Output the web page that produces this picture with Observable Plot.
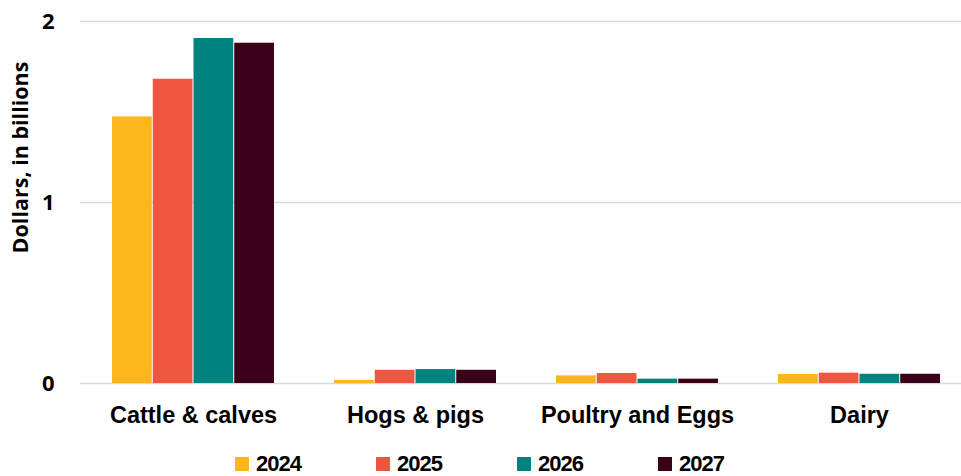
<!DOCTYPE html>
<html>
<head>
<meta charset="utf-8">
<script src="https://cdn.jsdelivr.net/npm/d3@7"></script>
<script src="https://cdn.jsdelivr.net/npm/@observablehq/plot@0.6"></script>
<style>
  html, body { margin: 0; padding: 0; background: #fff; overflow: hidden; }
  #chart { width: 961px; }
  #chart svg { display: block; }
  .legend { display: flex; padding-left: 235px; height: 24px; align-items: center; margin-top: 14px; }
  .legend .item { width: 141px; display: flex; align-items: center; }
  .legend .swatch { width: 14px; height: 14px; }
  .legend .lab { margin-left: 7px; line-height: 1.05; letter-spacing: -1px; font-family: "Liberation Sans", sans-serif; font-weight: bold; font-size: 22px; color: #000; }
</style>
</head>
<body>
<div id="chart"></div>
<script>
// Livestock categories and yearly values (billions of dollars)
const categories = ["Cattle & calves", "Hogs & pigs", "Poultry and Eggs", "Dairy"];
const years = ["2024", "2025", "2026", "2027"];
const values2024 = [1.473, 0.017, 0.042, 0.050];
const values2025 = [1.681, 0.073, 0.055, 0.057];
const values2026 = [1.906, 0.077, 0.024, 0.051];
const values2027 = [1.880, 0.073, 0.024, 0.051];
const yTicks = [0, 1, 2];
const colors = ["#FDB71A", "#F0563F", "#00827F", "#3B0019"];

const series = [values2024, values2025, values2026, values2027];

// Category band geometry: each group is split into one slot per year
const width = 961, marginLeft = 80, marginRight = 0;
const paddingInner = 0.269, paddingOuter = 0.11;
const step = (width - marginLeft - marginRight) / (categories.length - paddingInner + 2 * paddingOuter);
const groupWidth = step * (1 - paddingInner);
const slot = groupWidth / years.length;

const barMarks = years.map((yr, j) =>
  Plot.barY(categories.map((c, i) => ({category: c, year: yr, value: series[j][i]})), {
    x: "category",
    y: "value",
    fill: "year",
    insetLeft: j * slot,
    insetRight: (years.length - 1 - j) * slot
  })
);

const chart = Plot.plot({
  width,
  height: 438,
  marginLeft,
  marginRight,
  marginTop: 21,
  marginBottom: 55,
  style: {background: "#fff", color: "#000"},
  x: {
    domain: categories,
    paddingInner,
    paddingOuter,
    align: 0.612,
    label: null,
    tickSize: 0,
    tickPadding: 23
  },
  y: {
    domain: [0, 2],
    ticks: yTicks,
    tickFormat: d3.format("d"),
    tickSize: 0,
    tickPadding: 26,
    label: "Dollars, in billions",
    labelAnchor: "center",
    labelArrow: "none",
    labelOffset: 68
  },
  color: {domain: years, range: colors},
  marks: [
    Plot.ruleY(yTicks, {stroke: "#d9d9d9", strokeWidth: 1.3}),
    ...barMarks
  ]
});

// Typography for the axes
chart.querySelectorAll("[aria-label='y-axis tick label'] text").forEach(t => {
  t.setAttribute("font-family", "Open Sans, sans-serif");
  t.setAttribute("font-weight", "bold");
  t.setAttribute("font-size", "22");
});
chart.querySelectorAll("[aria-label='y-axis label'] text").forEach(t => {
  t.setAttribute("font-family", "Open Sans, sans-serif");
  t.setAttribute("font-weight", "bold");
  t.setAttribute("font-size", "21.5");
  t.setAttribute("dx", "45"); // raise the rotated title above the frame centre
});
chart.querySelectorAll("[aria-label='x-axis tick label'] text").forEach(t => {
  t.setAttribute("font-family", "Liberation Sans, sans-serif");
  t.setAttribute("font-weight", "bold");
  t.setAttribute("font-size", "23.5");
});
document.getElementById("chart").appendChild(chart);

// Legend below the plot
const legend = document.createElement("div");
legend.className = "legend";
years.forEach((yr, i) => {
  const item = document.createElement("div");
  item.className = "item";
  const sw = document.createElement("span");
  sw.className = "swatch";
  sw.style.background = colors[i];
  const lab = document.createElement("span");
  lab.className = "lab";
  lab.textContent = yr;
  item.appendChild(sw);
  item.appendChild(lab);
  legend.appendChild(item);
});
document.getElementById("chart").appendChild(legend);
</script>
</body>
</html>
